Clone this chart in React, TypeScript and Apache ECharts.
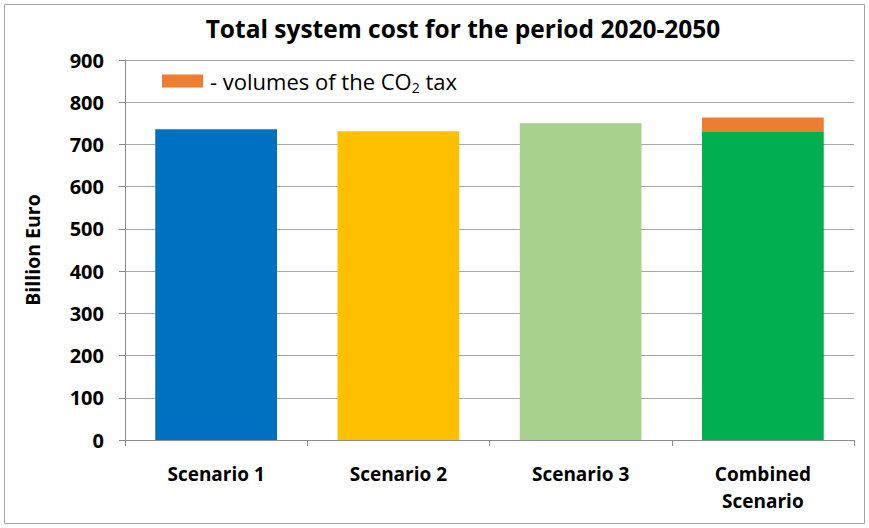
import React, { useEffect, useRef } from "react";
import * as echarts from "echarts";

const categories = ["Scenario 1", "Scenario 2", "Scenario 3", "Combined\nScenario"];
const baseCost = [736, 731, 750, 731];
const co2Tax: (number | string)[] = ["-", "-", "-", 33];
const barColors = ["#0070C0", "#FFC000", "#A9D18E", "#00B050"];
const yTicks = { min: 0, max: 900, interval: 100 };

const FONT = "'Open Sans', sans-serif";

export default function App() {
  const ref = useRef<HTMLDivElement>(null);
  useEffect(() => {
    if (!ref.current) return;
    const chart = echarts.init(ref.current, undefined, { renderer: "svg" });
    chart.setOption({
      animation: false,
      backgroundColor: "#ffffff",
      textStyle: { fontFamily: FONT, color: "#000" },
      title: {
        text: "Total system cost for the period 2020-2050",
        left: 458,
        top: 11,
        textAlign: "center",
        textStyle: { fontFamily: FONT, fontSize: 24.5, fontWeight: "bold", color: "#000" },
      },
      legend: {
        data: ["CO2 tax"],
        icon: "rect",
        left: 157,
        top: 65,
        itemWidth: 41,
        itemHeight: 13,
        itemGap: 10,
        formatter: () => "- volumes of the CO{sub|2} tax",
        textStyle: {
          fontFamily: FONT,
          fontSize: 22,
          color: "#000",
          padding: [0, 0, 0, 2],
          rich: {
            sub: { fontSize: 14, verticalAlign: "bottom", padding: [12, 0, 0, 0], fontFamily: FONT, color: "#000" },
          },
        },
      },
      grid: { left: 125, right: 15, top: 60, bottom: 88, containLabel: false },
      xAxis: {
        type: "category",
        data: categories,
        axisLine: { lineStyle: { color: "#8c8c8c" } },
        axisTick: { show: true, length: 6, lineStyle: { color: "#8c8c8c" } },
        axisLabel: {
          fontFamily: FONT,
          fontSize: 19,
          fontWeight: "bold",
          color: "#000",
          margin: 20,
          lineHeight: 27,
        },
      },
      yAxis: {
        type: "value",
        min: yTicks.min,
        max: yTicks.max,
        interval: yTicks.interval,
        name: "Billion Euro",
        nameLocation: "middle",
        nameGap: 83,
        nameTextStyle: { fontFamily: FONT, fontSize: 19.5, fontWeight: "bold", color: "#000" },
        axisLine: { show: true, lineStyle: { color: "#8c8c8c" } },
        axisTick: { show: true, length: 6, lineStyle: { color: "#8c8c8c" } },
        axisLabel: { fontFamily: FONT, fontSize: 20, fontWeight: "bold", color: "#000", margin: 21 },
        splitLine: { lineStyle: { color: "#a6a6a6" } },
      },
      graphic: [
        {
          type: "rect",
          shape: { x: 4.5, y: 4.5, width: 860, height: 519 },
          style: { fill: "none", stroke: "#a6a6a6", lineWidth: 1 },
          silent: true,
        },
      ],
      series: [
        {
          name: "Total cost",
          type: "bar",
          stack: "total",
          barWidth: "66.8%",
          data: baseCost.map((v, i) => ({ value: v, itemStyle: { color: barColors[i] } })),
        },
        {
          name: "CO2 tax",
          type: "bar",
          stack: "total",
          barWidth: "66.8%",
          itemStyle: { color: "#ED7D31" },
          data: co2Tax,
        },
      ],
    });
    return () => chart.dispose();
  }, []);
  return (
    <div
      ref={ref}
      style={{ position: "absolute", left: 0, top: 0, width: 869, height: 528 }}
    />
  );
}
